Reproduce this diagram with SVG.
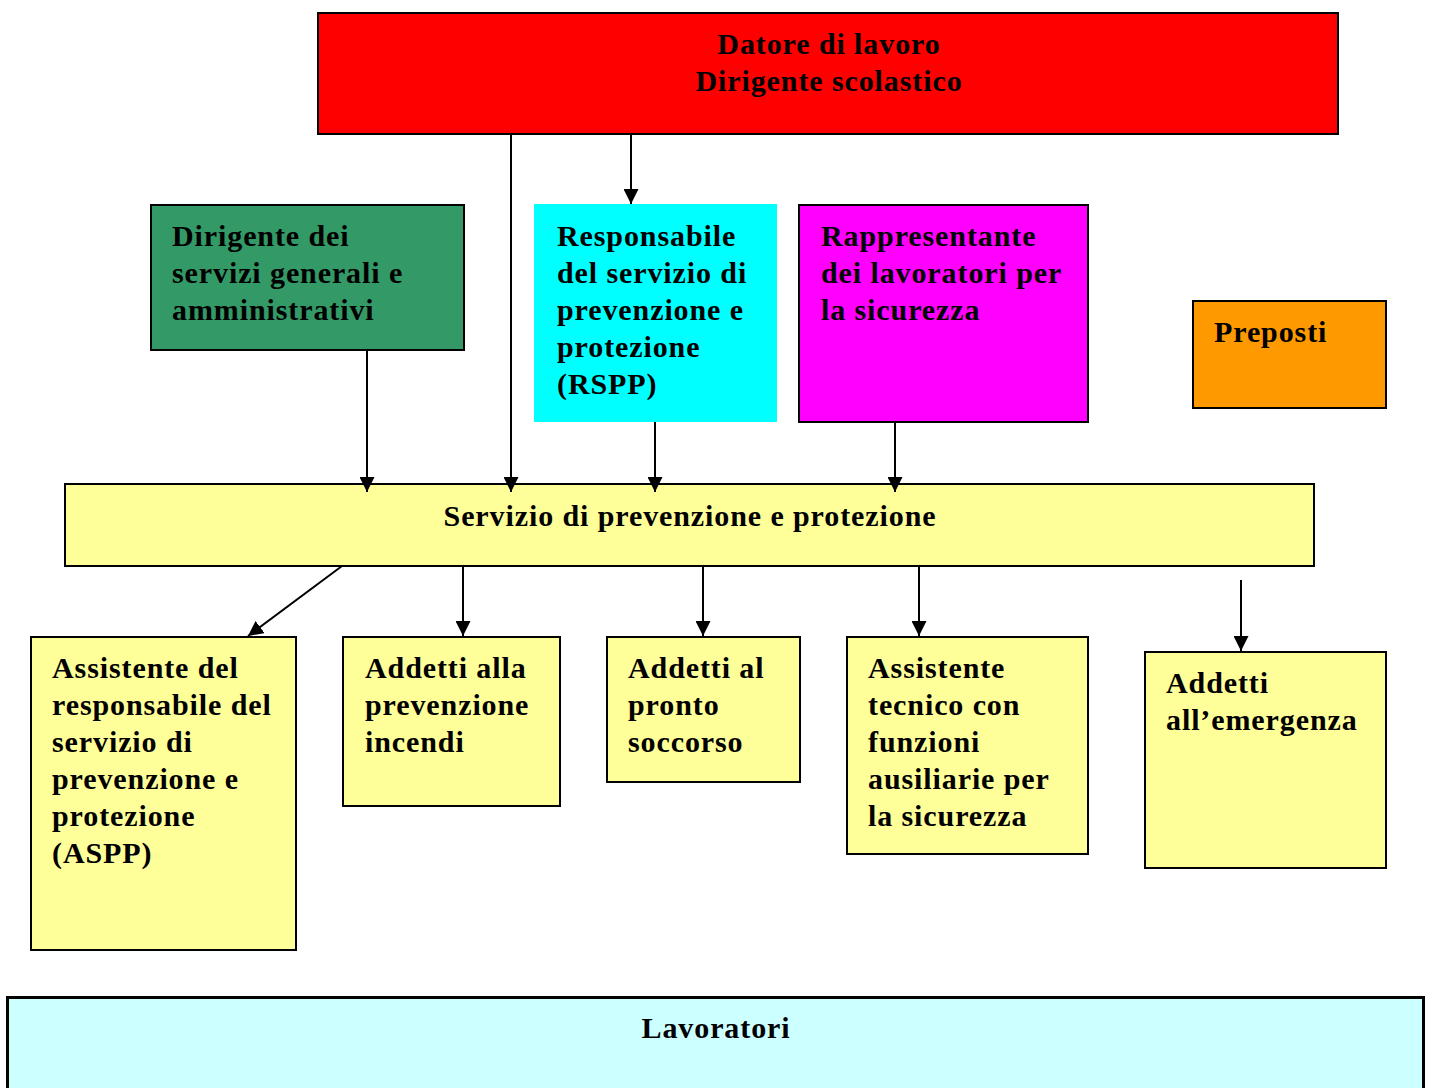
<svg xmlns="http://www.w3.org/2000/svg" width="1429" height="1088" viewBox="0 0 1429 1088">
<defs>
<marker id="ah" markerWidth="15" markerHeight="15" refX="15" refY="7.5" orient="auto" markerUnits="userSpaceOnUse">
<path d="M0,0 L15,7.5 L0,15 Z" fill="#000"/>
</marker>
<style>
.b{stroke:#000;stroke-width:2}
.t{font-family:"Liberation Serif","Times New Roman",serif;font-weight:bold;font-size:30px;letter-spacing:0.9px;fill:#000}
.c{text-anchor:middle}
.l{stroke:#000;stroke-width:2;fill:none;marker-end:url(#ah)}
</style>
</defs>
<rect width="1429" height="1088" fill="#fff"/>
<g id="datore">
<rect class="b" x="318" y="13" width="1020" height="121" fill="#ff0000"/>
<text class="t c" x="829" y="54">Datore di lavoro</text>
<text class="t c" x="829" y="91">Dirigente scolastico</text>
</g>
<g id="dsga">
<rect class="b" x="151" y="205" width="313" height="145" fill="#339966"/>
<text class="t" x="172" y="246">Dirigente dei</text>
<text class="t" x="172" y="283">servizi generali e</text>
<text class="t" x="172" y="320">amministrativi</text>
</g>
<g id="rspp">
<rect x="534" y="204" width="243" height="218" fill="#00ffff"/>
<text class="t" x="557" y="246">Responsabile</text>
<text class="t" x="557" y="283">del servizio di</text>
<text class="t" x="557" y="320">prevenzione e</text>
<text class="t" x="557" y="357">protezione</text>
<text class="t" x="557" y="394">(RSPP)</text>
</g>
<g id="rls">
<rect class="b" x="799" y="205" width="289" height="217" fill="#ff00ff"/>
<text class="t" x="821" y="246">Rappresentante</text>
<text class="t" x="821" y="283">dei lavoratori per</text>
<text class="t" x="821" y="320">la sicurezza</text>
</g>
<g id="preposti">
<rect class="b" x="1193" y="301" width="193" height="107" fill="#ff9900"/>
<text class="t" x="1214" y="342">Preposti</text>
</g>
<g id="spp">
<rect class="b" x="65" y="484" width="1249" height="82" fill="#ffff99"/>
<text class="t c" x="690" y="526">Servizio di prevenzione e protezione</text>
</g>
<g id="aspp">
<rect class="b" x="31" y="637" width="265" height="313" fill="#ffff99"/>
<text class="t" x="52" y="678">Assistente del</text>
<text class="t" x="52" y="715">responsabile del</text>
<text class="t" x="52" y="752">servizio di</text>
<text class="t" x="52" y="789">prevenzione e</text>
<text class="t" x="52" y="826">protezione</text>
<text class="t" x="52" y="863">(ASPP)</text>
</g>
<g id="incendi">
<rect class="b" x="343" y="637" width="217" height="169" fill="#ffff99"/>
<text class="t" x="365" y="678">Addetti alla</text>
<text class="t" x="365" y="715">prevenzione</text>
<text class="t" x="365" y="752">incendi</text>
</g>
<g id="pronto">
<rect class="b" x="607" y="637" width="193" height="145" fill="#ffff99"/>
<text class="t" x="628" y="678">Addetti al</text>
<text class="t" x="628" y="715">pronto</text>
<text class="t" x="628" y="752">soccorso</text>
</g>
<g id="tecnico">
<rect class="b" x="847" y="637" width="241" height="217" fill="#ffff99"/>
<text class="t" x="868" y="678">Assistente</text>
<text class="t" x="868" y="715">tecnico con</text>
<text class="t" x="868" y="752">funzioni</text>
<text class="t" x="868" y="789">ausiliarie per</text>
<text class="t" x="868" y="826">la sicurezza</text>
</g>
<g id="emergenza">
<rect class="b" x="1145" y="652" width="241" height="216" fill="#ffff99"/>
<text class="t" x="1166" y="693">Addetti</text>
<text class="t" x="1166" y="730">all’emergenza</text>
</g>
<g id="lavoratori">
<rect x="7.5" y="997.5" width="1416" height="100" fill="#ccffff" stroke="#000" stroke-width="3"/>
<text class="t c" x="716" y="1038">Lavoratori</text>
</g>
<g id="connectors">
<line class="l" x1="511" y1="134" x2="511" y2="492"/>
<line class="l" x1="631" y1="134" x2="631" y2="204"/>
<line class="l" x1="367" y1="350" x2="367" y2="492"/>
<line class="l" x1="655" y1="422" x2="655" y2="492"/>
<line class="l" x1="895" y1="422" x2="895" y2="492"/>
<line class="l" x1="342" y1="566" x2="248" y2="636"/>
<line class="l" x1="463" y1="566" x2="463" y2="636"/>
<line class="l" x1="703" y1="566" x2="703" y2="636"/>
<line class="l" x1="919" y1="566" x2="919" y2="636"/>
<line class="l" x1="1241" y1="580" x2="1241" y2="651"/>
</g>
</svg>
